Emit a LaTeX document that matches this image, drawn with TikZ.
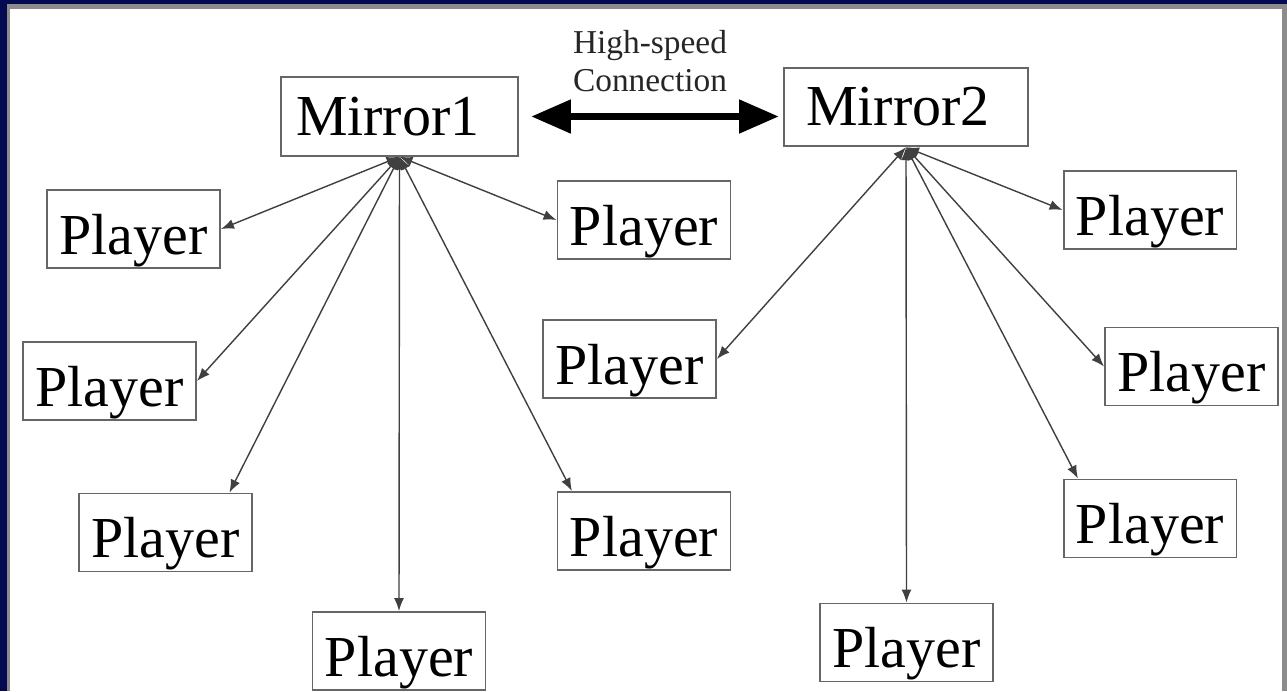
\documentclass[tikz,border=0pt]{standalone}
\usepackage{fontspec}
\setmainfont{Liberation Serif}
\usetikzlibrary{arrows.meta,positioning}

\definecolor{slidenavy}{RGB}{4,10,82}

\begin{document}
\begin{tikzpicture}[
  x=0.02cm, y=-0.02cm,
  % === Node styles ===
  mirror/.style={
    draw=black!60, line width=1.1pt, fill=white,
    minimum height=1.57cm, inner xsep=0.3cm, inner ysep=0pt,
    font=\fontsize{33}{38}\selectfont, anchor=center
  },
  player/.style={
    draw=black!60, line width=1.1pt, fill=white,
    minimum width=3.46cm, minimum height=1.56cm, inner sep=0pt,
    text height=1.28cm, text depth=0.28cm,
    font=\fontsize{33}{38}\selectfont
  },
  % === Arrow styles ===
  spoke/.style={{Latex[length=0.26cm,width=0.2cm]}-{Latex[length=0.26cm,width=0.2cm]},
    line width=0.8pt, black!75},
  fastlink/.style={{Triangle[length=0.8cm,width=0.64cm]}-{Triangle[length=0.8cm,width=0.64cm]},
    line width=4.5pt, black, shorten <=0.24cm, shorten >=0.08cm},
  % === Label styles ===
  linklbl/.style={font=\fontsize{19}{21.6}\selectfont, text=black!85, align=center},
]

% =============================================
% Slide frame
% =============================================
\useasboundingbox (0,0) rectangle (1287,691);
\fill[slidenavy] (0,0) rectangle (1287,691);
\fill[black!45] (7,4) rectangle (1287,691);
\fill[white] (10,9) rectangle (1282,691);

% =============================================
% Mirrors
% =============================================
\node[mirror, minimum width=4.74cm, text width=4.14cm, align=left] (m1) at (399.5,116.5) {Mirror1};
\node[mirror, minimum width=4.88cm, text width=4.28cm, align=left] (m2) at (906,107) {\hspace{0.14cm}Mirror2};

% High-speed link between the mirrors
\draw[fastlink] (m1.east) -- (m1.east -| m2.west);
\node[linklbl] (hslabel) at (650,61) {High-speed\\Connection};

% =============================================
% Players of Mirror1
% =============================================
\node[player] (p1) at (133.5,229) {Player};
\node[player] (p2) at (109.5,381) {Player};
\node[player] (p3) at (165.5,532.5) {Player};
\node[player] (p4) at (399,651) {Player};
\node[player] (p5) at (644,220) {Player};
\node[player] (p6) at (644,531) {Player};

% =============================================
% Players of Mirror2
% =============================================
\node[player] (p7) at (1150,210) {Player};
\node[player] (p8) at (629.5,359) {Player};
\node[player] (p9) at (1191.5,366.5) {Player};
\node[player] (p10) at (1150,518.5) {Player};
\node[player] (p11) at (906.5,642.5) {Player};

% =============================================
% Spokes: Mirror1 <-> players
% =============================================
\draw[spoke] (m1.south) -- (p1.east);
\draw[spoke] (m1.south) -- (p2.east);
\draw[spoke] (m1.south) -- (p3.32);
\draw[spoke] (m1.south) -- (p4.north);
\draw[spoke] (m1.south) -- (p5.west);
\draw[spoke] (m1.south) -- (p6.151);

% =============================================
% Spokes: Mirror2 <-> players
% =============================================
\draw[spoke] (m2.south) -- (p7.west);
\draw[spoke] (m2.south) -- (p8.east);
\draw[spoke] (m2.south) -- (p9.west);
\draw[spoke] (m2.south) -- (p10.151);
\draw[spoke] (m2.south) -- (p11.north);

\end{tikzpicture}
\end{document}
